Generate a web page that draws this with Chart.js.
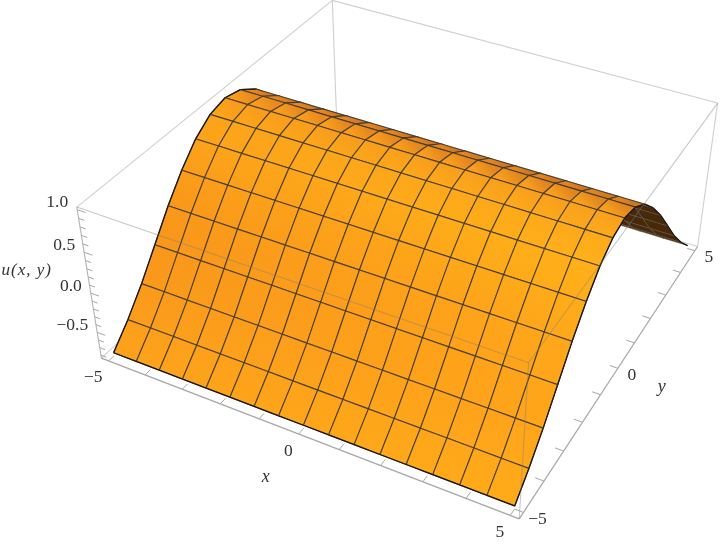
<!DOCTYPE html>
<html>
<head>
<meta charset="utf-8">
<title>u(x, y)</title>
<style>
  html, body { margin: 0; background: #fff; }
  canvas { display: block; }
</style>
</head>
<body>
<canvas id="surface-chart" width="720" height="548"></canvas>
<script src="https://cdn.jsdelivr.net/npm/chart.js@4"></script>
<script>
const xGrid = [-5, -4.375, -3.75, -3.125, -2.5, -1.875, -1.25, -0.625, 0, 0.625, 1.25, 1.875, 2.5, 3.125, 3.75, 4.375, 5];
const yGrid = [-5, -4.375, -3.75, -3.125, -2.5, -1.875, -1.25, -0.625, 0, 0.625, 1.25, 1.875, 2.5, 3.125, 3.75, 4.375, 5];
// height of the surface at each yGrid value, same for every x
const uValues = [-0.8, -0.57, -0.3, 0.01, 0.32, 0.59, 0.81, 0.95, 1, 0.95, 0.81, 0.59, 0.32, 0.01, -0.3, -0.57, -0.8];

const xTicks = [-5, -4, -3, -2, -1, 0, 1, 2, 3, 4, 5];
const yTicks = [-5, -4, -3, -2, -1, 0, 1, 2, 3, 4, 5];
const zTicks = [-0.8, -0.7, -0.6, -0.5, -0.4, -0.3, -0.2, -0.1, 0, 0.1, 0.2, 0.3, 0.4, 0.5, 0.6, 0.7, 0.8, 0.9, 1];
const xLabelTicks = [-5, 0, 5];
const yLabelTicks = [-5, 0, 5];
const zLabelTicks = [-0.5, 0, 0.5, 1];

const boxX = [-5.2, 5.2];
const boxY = [-5.2, 5.2];
const boxZ = [-0.84, 1.03];

// face colours along y, at the x = -5 side and the x = 5 side
const shadeLeft = ["#fda11b", "#fc9e1b", "#fa9a1b", "#f9971b", "#f9971a", "#fb9c1a", "#fda31a", "#fca41a", "#f89c1c", "#e88a20", "#d87a20", "#d87a20", "#d87a20", "#d87a20", "#d87a20", "#d87a20", "#d87a20"];
const shadeRight = ["#ffab19", "#ffa81a", "#ffa51a", "#ffa51a", "#ffa81a", "#ffad19", "#ffb019", "#fdaa1b", "#f8a01c", "#e08420", "#d07820", "#d07820", "#d07820", "#d07820", "#d07820", "#d07820", "#d07820"];
const underColor = "#47290a";

// perspective camera fitted to the box in the picture
const camera = [
  [34.2197, 28.9512, -15.8584, 414.56],
  [9.9977, -18.0493, -87.0985, 235.954],
  [-0.009925, 0.019946, -0.038284, 1],
];

function project(x, y, z) {
  const w = camera[2][0] * x + camera[2][1] * y + camera[2][2] * z + camera[2][3];
  return {
    x: (camera[0][0] * x + camera[0][1] * y + camera[0][2] * z + camera[0][3]) / w,
    y: (camera[1][0] * x + camera[1][1] * y + camera[1][2] * z + camera[1][3]) / w,
  };
}

function mixHex(a, b, t) {
  const parts = [1, 3, 5].map((pos) => {
    const from = parseInt(a.slice(pos, pos + 2), 16);
    const to = parseInt(b.slice(pos, pos + 2), 16);
    return Math.round(from + (to - from) * t);
  });
  return `rgb(${parts.join(",")})`;
}

function lineSet(points, color, width) {
  return {
    data: points,
    showLine: true,
    borderColor: color,
    borderWidth: width,
    pointRadius: 0,
    fill: false,
    tension: 0,
    clip: false,
  };
}

function seg3d(a, b, color, width) {
  return lineSet([project(...a), project(...b)], color, width);
}

function facetSet(i, k) {
  const corners = [
    project(xGrid[i], yGrid[k], uValues[k]),
    project(xGrid[i + 1], yGrid[k], uValues[k]),
    project(xGrid[i + 1], yGrid[k + 1], uValues[k + 1]),
    project(xGrid[i], yGrid[k + 1], uValues[k + 1]),
  ];
  let area = 0;
  corners.forEach((p, n) => {
    const q = corners[(n + 1) % 4];
    area += p.x * q.y - q.x * p.y;
  });
  const front = area < 0;
  const t = (i + 0.5) / 16;
  const startColor = front ? mixHex(shadeLeft[k], shadeRight[k], t) : underColor;
  const endColor = front ? mixHex(shadeLeft[k + 1], shadeRight[k + 1], t) : underColor;
  const from = { x: (corners[0].x + corners[1].x) / 2, y: (corners[0].y + corners[1].y) / 2 };
  const to = { x: (corners[2].x + corners[3].x) / 2, y: (corners[2].y + corners[3].y) / 2 };

  const set = front
    ? lineSet([...corners, corners[0]], "rgba(58,52,46,0.8)", 1.15)
    : lineSet([...corners, corners[0]], "rgba(92,80,66,0.6)", 0.9);
  set.fill = "shape";
  set.backgroundColor = (context) => {
    const chart = context.chart;
    if (!chart.chartArea) return startColor;
    const gradient = chart.ctx.createLinearGradient(
      chart.scales.x.getPixelForValue(from.x), chart.scales.y.getPixelForValue(from.y),
      chart.scales.x.getPixelForValue(to.x), chart.scales.y.getPixelForValue(to.y),
    );
    gradient.addColorStop(0, startColor);
    gradient.addColorStop(1, endColor);
    return gradient;
  };
  return set;
}

function buildDatasets() {
  const sets = [];
  const [x0, x1] = boxX;
  const [y0, y1] = boxY;
  const [z0, z1] = boxZ;
  const back = "#cfcfcf";
  const axis = "#a6a6a6";
  const over = "rgba(125,125,125,0.42)";

  // box edges behind the surface
  sets.push(seg3d([x0, y1, z0], [x1, y1, z0], back, 1.1));
  sets.push(seg3d([x0, y1, z0], [x0, y0, z0], back, 1.1));
  sets.push(seg3d([x0, y1, z0], [x0, y1, z1], back, 1.1));
  sets.push(seg3d([x0, y1, z1], [x0, y0, z1], back, 1.1));
  sets.push(seg3d([x0, y1, z1], [x1, y1, z1], back, 1.1));
  sets.push(seg3d([x0, y0, z0], [x0, y0, z1], "#b4b4b4", 1.1));
  sets.push(seg3d([x1, y1, z0], [x1, y1, z1], back, 1.1));

  // axis edges and ticks
  sets.push(seg3d([x0, y0, z0], [x1, y0, z0], axis, 1.2));
  sets.push(seg3d([x1, y0, z0], [x1, y1, z0], axis, 1.2));
  xTicks.forEach((v) => sets.push(seg3d([v, y0, z0], [v, y0 + 0.2, z0], axis, 1)));
  yTicks.forEach((v) => sets.push(seg3d([x1, v, z0], [x1 - 0.2, v, z0], axis, 1)));
  zTicks.forEach((v) => {
    const major = zLabelTicks.includes(v);
    sets.push(seg3d([x0, y0, v], [x0 + (major ? 0.22 : 0.15), y0, v], axis, 1));
  });

  // facets, far ones first
  for (let k = yGrid.length - 2; k >= 0; k--) {
    for (let i = 0; i < xGrid.length - 1; i++) {
      sets.push(facetSet(i, k));
      const edge = "#1c1712";
      if (i === 0) sets.push(seg3d([xGrid[0], yGrid[k], uValues[k]], [xGrid[0], yGrid[k + 1], uValues[k + 1]], edge, 1.3));
      if (i === xGrid.length - 2) sets.push(seg3d([xGrid[i + 1], yGrid[k], uValues[k]], [xGrid[i + 1], yGrid[k + 1], uValues[k + 1]], edge, 1.3));
      if (k === 0) sets.push(seg3d([xGrid[i], yGrid[0], uValues[0]], [xGrid[i + 1], yGrid[0], uValues[0]], edge, 1.3));
    }
  }

  // box edges in front, they stay faint over the surface
  sets.push(seg3d([x0, y0, z1], [x1, y0, z1], over, 1.1));
  sets.push(seg3d([x1, y0, z1], [x1, y1, z1], over, 1.1));
  sets.push(seg3d([x1, y0, z1], [x1, y0, z0], over, 1.1));

  // the first dataset is painted last
  return sets.reverse();
}

const tickLabels = {
  id: "tickLabels",
  afterDatasetsDraw(chart) {
    const { ctx, scales } = chart;
    const put = (text, anchor, dx, dy, align, font) => {
      ctx.font = font;
      ctx.textAlign = align;
      ctx.textBaseline = "middle";
      ctx.fillText(text, scales.x.getPixelForValue(anchor.x) + dx, scales.y.getPixelForValue(anchor.y) + dy);
    };
    const tickFont = '17.5px "Liberation Serif"';
    const titleFont = 'italic 18px "Liberation Serif"';
    const num = (v, digits) => v.toFixed(digits).replace("-", "\u2212");

    ctx.save();
    ctx.fillStyle = "#333";
    xLabelTicks.forEach((v) => put(num(v, 0), project(v, boxY[0], boxZ[0]), -6, 17, "right", tickFont));
    yLabelTicks.forEach((v) => put(num(v, 0), project(boxX[1], v, boxZ[0]), 14, 7, "center", tickFont));
    zLabelTicks.forEach((v) => put(num(v, 1), project(boxX[0], boxY[0], v), -9, -7, "right", tickFont));
    put("x", project(0, boxY[0], boxZ[0]), -33, 43, "center", titleFont);
    put("y", project(boxX[1], 0, boxZ[0]), 44, 19, "center", titleFont);
    ctx.letterSpacing = "1px";
    put("u(x, y)", project(boxX[0], boxY[0], 0), -64, -23, "center", 'italic 17px "Liberation Serif"');
    ctx.restore();
  },
};

new Chart(document.getElementById("surface-chart").getContext("2d"), {
  type: "scatter",
  data: { datasets: buildDatasets() },
  options: {
    responsive: false,
    animation: false,
    events: [],
    layout: { padding: 0 },
    plugins: { legend: { display: false }, tooltip: { enabled: false } },
    scales: {
      x: { type: "linear", min: 0, max: 720, display: false },
      y: { type: "linear", min: 0, max: 548, reverse: true, display: false },
    },
  },
  plugins: [tickLabels],
});
</script>
</body>
</html>
